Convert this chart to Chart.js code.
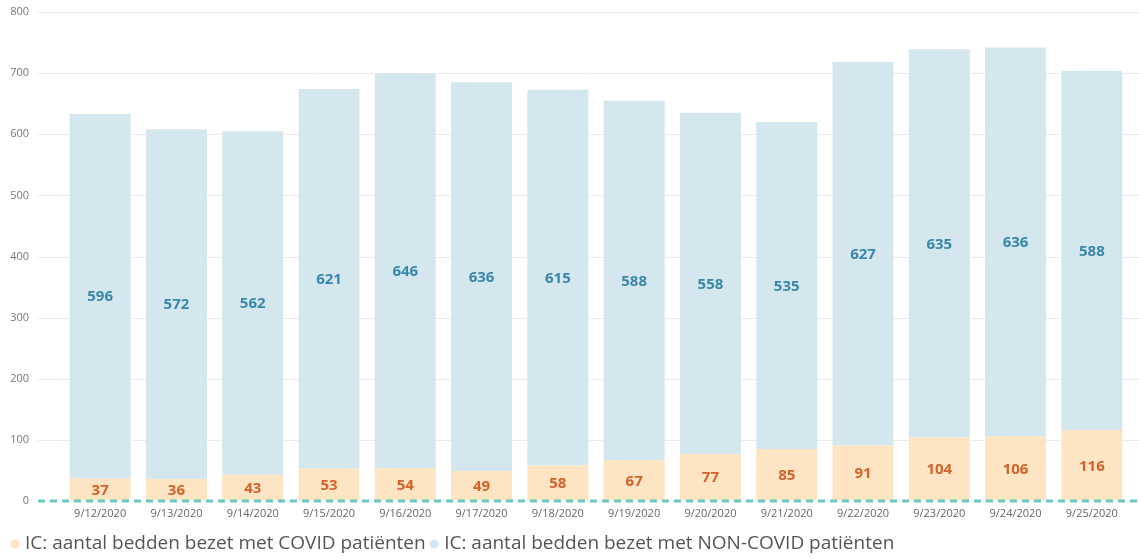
<!DOCTYPE html>
<html>
<head>
<meta charset="utf-8">
<script src="https://cdn.jsdelivr.net/npm/chart.js@4/dist/chart.umd.min.js"></script>
<style>
  html, body { margin: 0; padding: 0; background: #ffffff; }
  #wrap { width: 1139px; height: 559px; position: relative; }
</style>
</head>
<body>
<div id="wrap"><canvas id="c"></canvas></div>
<script>
const categories = ['9/12/2020','9/13/2020','9/14/2020','9/15/2020','9/16/2020','9/17/2020','9/18/2020','9/19/2020','9/20/2020','9/21/2020','9/22/2020','9/23/2020','9/24/2020','9/25/2020'];
const covidBeds = [37, 36, 43, 53, 54, 49, 58, 67, 77, 85, 91, 104, 106, 116];
const nonCovidBeds = [596, 572, 562, 621, 646, 636, 615, 588, 558, 535, 627, 635, 636, 588];
const yTickValues = [0, 100, 200, 300, 400, 500, 600, 700, 800];
const seriesNames = ['IC: aantal bedden bezet met COVID patiënten', 'IC: aantal bedden bezet met NON-COVID patiënten'];

const FONT = '"Segoe UI", "Open Sans", "Noto Sans", sans-serif';

const gridPlugin = {
  id: 'extGrid',
  beforeDatasetsDraw(chart) {
    const ctx = chart.ctx, y = chart.scales.y;
    ctx.save();
    ctx.strokeStyle = '#ececec';
    ctx.lineWidth = 1;
    y.ticks.forEach(t => {
      if (t.value === 0) return;
      const py = Math.round(y.getPixelForValue(t.value)) + 0.5;
      ctx.beginPath();
      ctx.moveTo(38, py);
      ctx.lineTo(chart.width, py);
      ctx.stroke();
    });
    ctx.restore();
  }
};

const labelPlugin = {
  id: 'valueLabels',
  afterDatasetsDraw(chart) {
    const ctx = chart.ctx;
    const colors = ['#d4622b', '#3b87a8'];
    ctx.save();
    ctx.font = 'bold 15px ' + FONT;
    ctx.textAlign = 'center';
    ctx.textBaseline = 'middle';
    chart.data.datasets.forEach((ds, i) => {
      const meta = chart.getDatasetMeta(i);
      ctx.fillStyle = colors[i];
      meta.data.forEach((el, j) => {
        const cy = (el.y + el.base) / 2;
        ctx.fillText(String(ds.data[j]), el.x, cy + 1);
      });
    });
    // dashed zero line
    const y0 = chart.scales.y.getPixelForValue(0);
    ctx.strokeStyle = '#6ac7bd';
    ctx.lineWidth = 3;
    ctx.setLineDash([7, 5]);
    ctx.beginPath();
    ctx.moveTo(38, y0);
    ctx.lineTo(chart.width, y0);
    ctx.stroke();
    ctx.restore();
  }
};

new Chart(document.getElementById('c'), {
  type: 'bar',
  data: {
    labels: categories,
    datasets: [
      { label: seriesNames[0], data: covidBeds, backgroundColor: '#fde5c4', borderWidth: 0 },
      { label: seriesNames[1], data: nonCovidBeds, backgroundColor: '#d4e6ee', borderWidth: 0 }
    ]
  },
  options: {
    responsive: true,
    maintainAspectRatio: false,
    animation: false,
    barPercentage: 0.8,
    categoryPercentage: 1.0,
    layout: { padding: { left: 6.5, right: 9, top: 12, bottom: 0 } },
    scales: {
      x: {
        stacked: true,
        grid: { display: false, drawTicks: false },
        border: { display: false },
        afterFit(scale) { scale.height = 25.5; },
        ticks: { color: '#666', font: { size: 11, family: FONT }, padding: 6, maxRotation: 0, autoSkip: false }
      },
      y: {
        stacked: true,
        min: 0,
        max: 800,
        afterBuildTicks(scale) { scale.ticks = yTickValues.map(v => ({ value: v })); },
        afterFit(scale) { scale.width = 55.5; },
        grid: { display: true, drawOnChartArea: false, drawTicks: true, tickLength: 30, tickColor: 'rgba(0,0,0,0)', color: 'rgba(0,0,0,0)' },
        border: { display: false },
        ticks: { color: '#777', font: { size: 11, family: FONT }, padding: 3 }
      }
    },
    plugins: {
      legend: {
        position: 'bottom',
        align: 'start',
        maxHeight: 32.5,
        labels: {
          usePointStyle: true,
          pointStyle: 'circle',
          boxWidth: 1,
          boxHeight: 6.5,
          padding: 8,
          color: '#555',
          font: { size: 19, family: FONT }
        }
      },
      tooltip: { enabled: false }
    }
  },
  plugins: [gridPlugin, labelPlugin]
});
</script>
</body>
</html>
